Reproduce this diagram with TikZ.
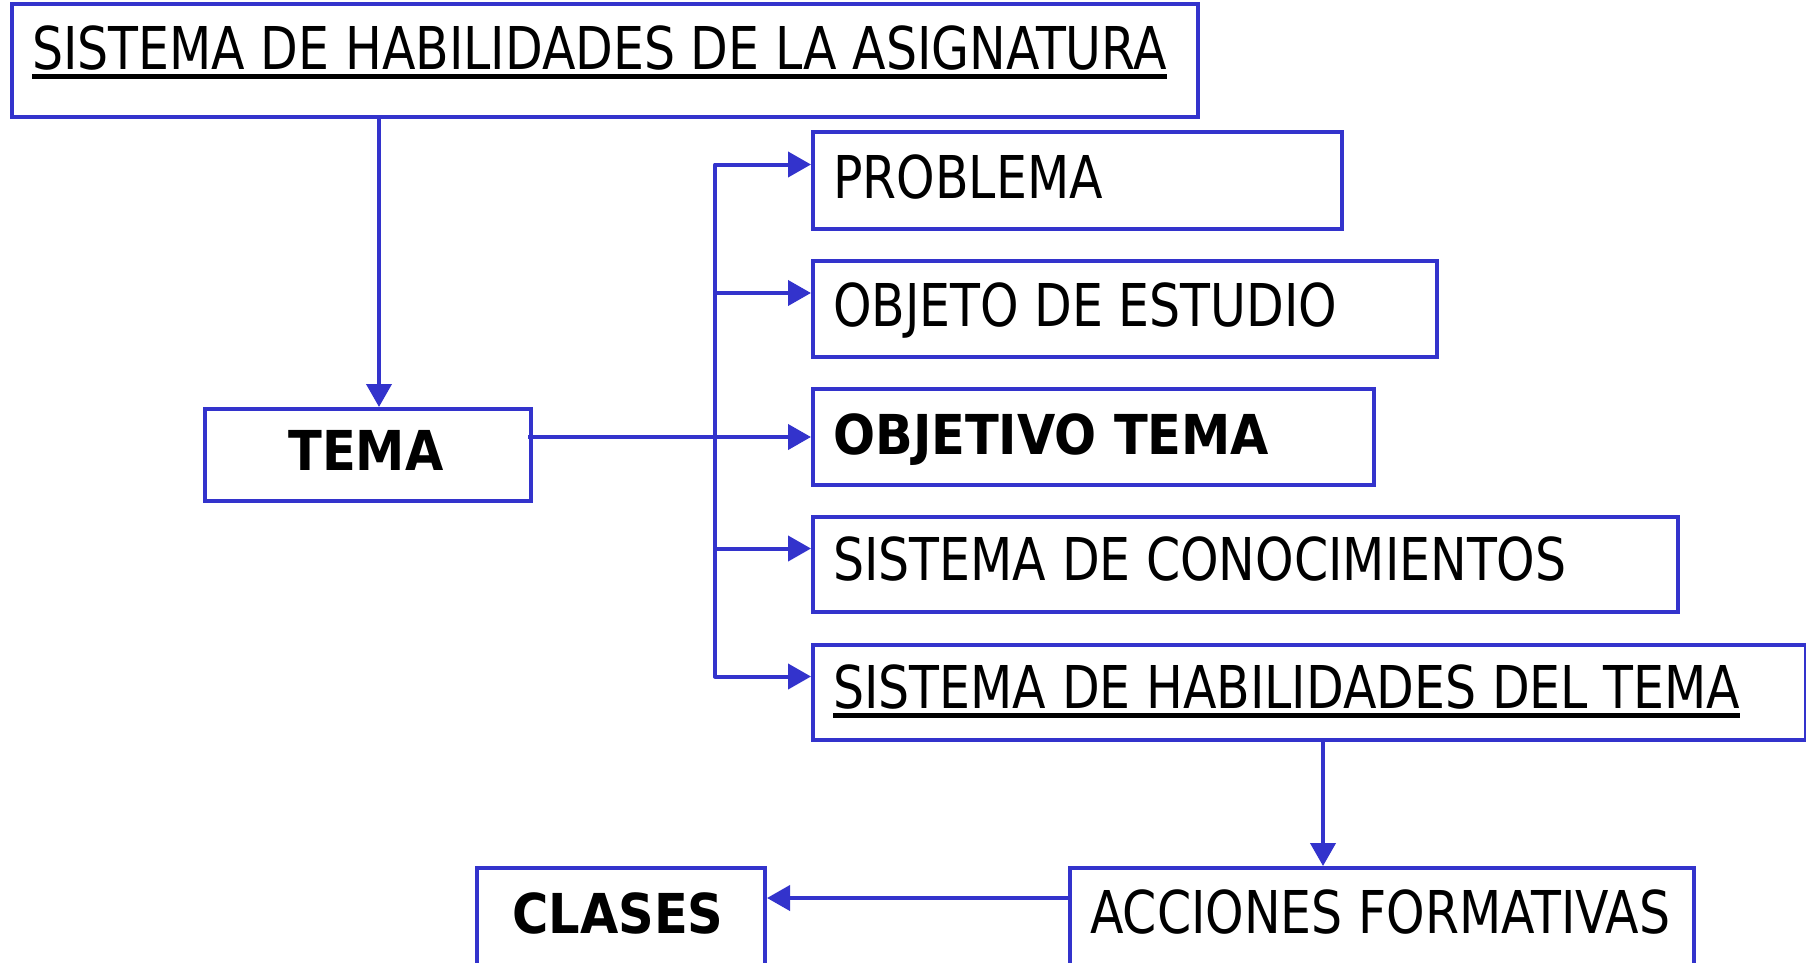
\documentclass[tikz,border=0pt]{standalone}
\usepackage{fontspec}
\setmainfont{DejaVu Sans}[FakeStretch=0.83, BoldFeatures={FakeStretch=0.9}]
\usetikzlibrary{arrows.meta}
\definecolor{lineblue}{RGB}{51,51,204}
\newcommand\ulbox[1]{\setbox0\hbox{#1}\rlap{\rule[-9.5pt]{\wd0}{5pt}}\box0}
\begin{document}
\begin{tikzpicture}[x=1pt,y=-1pt,
  box/.style={draw=lineblue, line width=4pt, rectangle, inner sep=0pt, anchor=north west},
  lbl/.style={anchor=base west, inner sep=0pt, font=\fontsize{59}{70}\selectfont},
  blbl/.style={anchor=base west, inner sep=0pt, font=\fontsize{55}{66}\selectfont\bfseries},
  bclbl/.style={anchor=base, inner sep=0pt, font=\fontsize{55}{66}\selectfont\bfseries},
  conn/.style={draw=lineblue, line width=4pt, line join=round},
  arr/.style={conn, -{Triangle[length=23pt,width=25pt]}}]
\useasboundingbox (0,0) rectangle (1806,962);
\fill[white] (0,0) rectangle (1806,962);
\clip (0,0) rectangle (1806,962);
% boxes
\node[box, minimum width=1186pt, minimum height=113pt] (top) at (10,2) {};
\node[box, minimum width=326pt, minimum height=92pt] (tema) at (203,407) {};
\node[box, minimum width=529pt, minimum height=97pt] (prob) at (811,130) {};
\node[box, minimum width=624pt, minimum height=96pt] (objeto) at (811,259) {};
\node[box, minimum width=561pt, minimum height=96pt] (objetivo) at (811,387) {};
\node[box, minimum width=865pt, minimum height=95pt] (conoc) at (811,515) {};
\node[box, minimum width=993pt, minimum height=95pt] (habt) at (811,643) {};
\node[box, minimum width=624pt, minimum height=110pt] (acc) at (1068,866) {};
\node[box, minimum width=288pt, minimum height=110pt] (clases) at (475,866) {};
% texts
\node[lbl] (ttop) at (32,69) {\ulbox{SISTEMA DE HABILIDADES DE LA ASIGNATURA}};
\node[bclbl] (ttema) at (366,470) {TEMA};
\node[lbl] (tprob) at (833,198) {PROBLEMA};
\node[lbl] (tobjeto) at (833,326) {OBJETO DE ESTUDIO};
\node[blbl] (tobjetivo) at (833,454) {OBJETIVO TEMA};
\node[lbl] (tconoc) at (833,580) {SISTEMA DE CONOCIMIENTOS};
\node[lbl] (thabt) at (833,708) {\ulbox{SISTEMA DE HABILIDADES DEL TEMA}};
\node[lbl] (tacc) at (1090,933) {ACCIONES FORMATIVAS};
\node[bclbl] (tclases) at (618,933) {CLASES};
% connectors
\coordinate (a1) at (379,0);
\draw[arr] (top.south -| a1) -- (tema.north -| a1);
\coordinate (bus) at (715,0);
\coordinate (pe) at ([yshift=16pt]prob.west);
\coordinate (oe) at ([yshift=16pt]objeto.west);
\coordinate (ve) at (objetivo.west);
\coordinate (ce) at ([yshift=16pt]conoc.west);
\coordinate (he) at ([yshift=16pt]habt.west);
\draw[conn] ([xshift=-30pt]pe) -- (bus |- pe) -- (bus |- he) -- ([xshift=-30pt]he);
\draw[arr] (bus |- pe) -- (pe);
\draw[arr] (bus |- oe) -- (oe);
\draw[arr] ([xshift=-5pt]tema.east |- ve) -- (ve);
\draw[arr] (bus |- ce) -- (ce);
\draw[arr] (bus |- he) -- (he);
\coordinate (a2) at (1323,0);
\draw[arr] (habt.south -| a2) -- (acc.north -| a2);
\coordinate (a3) at (0,898);
\draw[arr] (acc.west |- a3) -- (clases.east |- a3);
\end{tikzpicture}
\end{document}
